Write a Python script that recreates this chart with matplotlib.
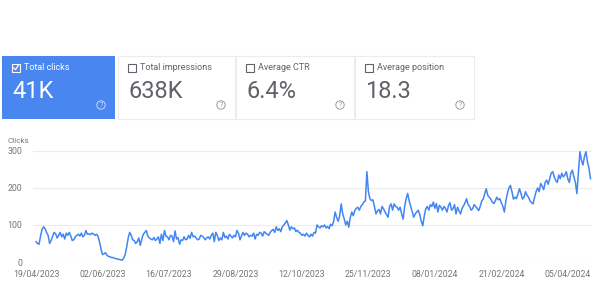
import numpy as np
import pandas as pd
import matplotlib
matplotlib.use("Agg")
import matplotlib.pyplot as plt
import matplotlib.dates as mdates
from matplotlib.patches import Rectangle, Circle

plt.rcParams['font.family'] = ['Roboto', 'DejaVu Sans']

# --- dados ---
card_labels = ["Total clicks", "Total impressions", "Average CTR", "Average position"]
card_values = ["41K", "638K", "6.4%", "18.3"]

start_date = "2023-04-19"
clicks = [
    55, 50, 48, 70, 88, 95, 90, 80, 72, 50,
    58, 70, 80, 76, 65, 72, 80, 68, 75, 62,
    78, 72, 80, 70, 58, 60, 68, 72, 75, 70,
    78, 68, 72, 85, 75, 76, 74, 78, 76, 72,
    75, 70, 55, 35, 20, 22, 25, 18, 15, 14,
    12, 12, 10, 9, 8, 7, 6, 5, 10, 20,
    40, 65, 80, 72, 60, 58, 50, 55, 65, 45,
    62, 75, 80, 85, 70, 65, 62, 60, 66, 58,
    62, 68, 50, 75, 58, 85, 70, 68, 60, 72,
    70, 55, 84, 62, 66, 48, 60, 58, 68, 60,
    62, 72, 64, 80, 68, 70, 65, 60, 62, 72,
    70, 66, 60, 65, 68, 62, 72, 78, 55, 80,
    72, 58, 65, 60, 80, 66, 70, 62, 75, 70,
    65, 72, 68, 85, 78, 60, 70, 80, 72, 78,
    75, 68, 72, 70, 78, 62, 75, 72, 80, 78,
    70, 82, 78, 75, 72, 80, 85, 88, 80, 95,
    85, 90, 82, 95, 100, 105, 112, 100, 86, 95,
    90, 92, 82, 86, 80, 78, 72, 75, 70, 78,
    72, 68, 75, 70, 80, 78, 100, 95, 92, 98,
    95, 100, 92, 96, 90, 102, 98, 110, 135, 120,
    110, 125, 157, 130, 116, 100, 110, 94, 120, 135,
    125, 139, 145, 148, 140, 150, 155, 162, 165, 244,
    190, 171, 166, 168, 150, 130, 138, 142, 130, 150,
    144, 135, 128, 121, 150, 157, 140, 157, 150, 148,
    140, 148, 130, 116, 150, 171, 185, 165, 150, 135,
    121, 130, 135, 140, 128, 110, 98, 125, 144, 150,
    140, 155, 150, 162, 145, 158, 135, 153, 148, 140,
    150, 145, 135, 152, 160, 140, 144, 155, 130, 148,
    138, 130, 145, 152, 160, 171, 155, 150, 140, 144,
    155, 150, 145, 139, 150, 165, 170, 185, 198, 180,
    175, 170, 162, 158, 165, 175, 168, 171, 160, 150,
    135, 165, 185, 200, 207, 190, 170, 175, 171, 185,
    198, 185, 170, 175, 190, 180, 175, 165, 160, 157,
    175, 190, 200, 190, 212, 205, 195, 215, 221, 210,
    225, 240, 244, 230, 220, 215, 235, 225, 240, 230,
    235, 244, 225, 215, 240, 248, 230, 215, 185, 240,
    298, 275, 262, 285, 298, 270, 253, 225,
]
tick_dates = ["2023-04-19", "2023-06-02", "2023-07-16", "2023-08-29", "2023-10-12",
              "2023-11-25", "2024-01-08", "2024-02-21", "2024-04-05"]
y_ticks = [0, 100, 200, 300]

datas = pd.date_range(start_date, periods=len(clicks), freq="D")

W, H = 600, 292
fig = plt.figure(figsize=(W / 100, H / 100), dpi=100)
fig.patch.set_facecolor("white")

# --- cartões no topo (coordenadas em pixels) ---
top = fig.add_axes([0, 0, 1, 1])
top.set_xlim(0, W)
top.set_ylim(H, 0)
top.axis("off")

azul = "#4a86f0"
cinza = "#5f6368"
cards_x = [2, 118, 236, 355]
cards_w = [113, 117, 118, 119]
for i, (lab, val) in enumerate(zip(card_labels, card_values)):
    x0 = cards_x[i]
    w = cards_w[i]
    if i == 0:
        top.add_patch(Rectangle((x0, 56), w, 63, facecolor=azul, edgecolor="none"))
        fg = "white"
    else:
        top.add_patch(Rectangle((x0, 56), w, 63, facecolor="white", edgecolor="#ececec", lw=0.8))
        fg = cinza
    # checkbox
    top.add_patch(Rectangle((x0 + 10, 64), 7.5, 7.5, facecolor="none", edgecolor=fg, lw=0.8))
    if i == 0:
        top.plot([x0 + 11.8, x0 + 13.5, x0 + 16.2], [67.8, 69.8, 65.5], color="white", lw=0.9)
    top.text(x0 + 22, 67.5, lab, color=fg, fontsize=6.5, va="center", ha="left")
    top.text(x0 + 10, 91, val, color=fg, fontsize=17, va="center", ha="left")
    # ícone de ajuda
    cx = x0 + w - 14
    top.add_patch(Circle((cx, 105), 4.2, facecolor="none",
                         edgecolor="#c5d8fb" if i == 0 else "#9a9a9a", lw=0.7))
    top.text(cx, 105.3, "?", color="#c5d8fb" if i == 0 else "#9a9a9a",
             fontsize=5, ha="center", va="center")

# --- gráfico ---
ax = fig.add_axes([33 / W, 1 - 262 / H, 559 / W, 112.9 / H])
ax.plot(datas, clicks, color="#4285f4", lw=1.1)
ax.set_ylim(0, 305)
ax.set_xlim(pd.Timestamp(start_date) - pd.Timedelta(days=2),
            pd.Timestamp(start_date) + pd.Timedelta(days=368))
ax.set_yticks(y_ticks)
ax.set_xticks(pd.to_datetime(tick_dates))
ax.xaxis.set_major_formatter(mdates.DateFormatter("%d/%m/%Y"))
ax.grid(axis="y", color="#ececec", lw=0.8)
ax.set_axisbelow(True)
for s in ax.spines.values():
    s.set_visible(False)
ax.tick_params(length=0, labelsize=6.3, colors="#757575")
ax.tick_params(axis="y", pad=8)
ax.tick_params(axis="x", pad=6)
fig.text(7 / W, 1 - 141 / H, "Clicks", fontsize=5.8, color="#757575", va="center")

fig.savefig("out.png", dpi=100)
